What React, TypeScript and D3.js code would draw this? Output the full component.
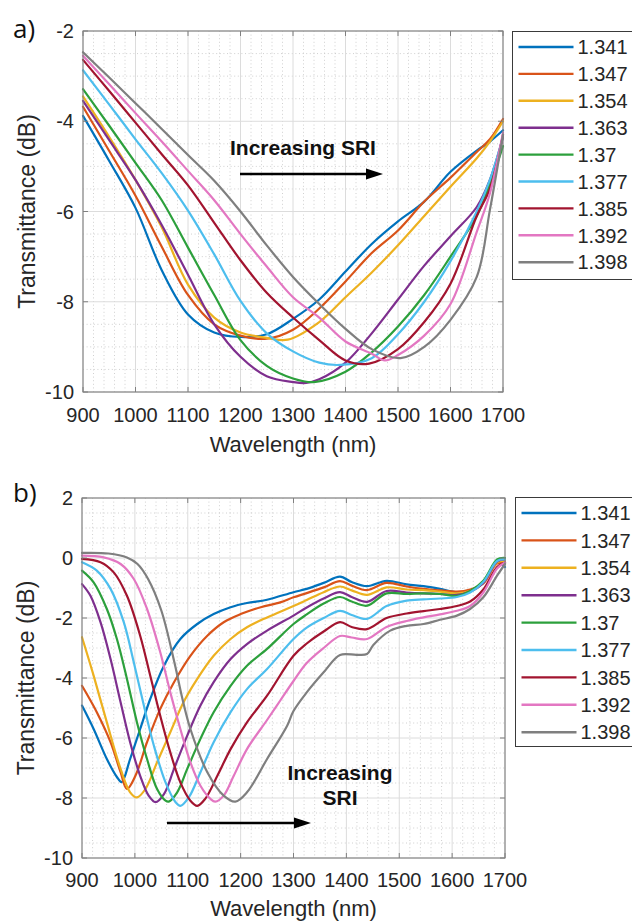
import React from "react";
import * as d3 from "d3";

type Pt = [number, number];

const WAVELENGTH_TICKS = [900, 1000, 1100, 1200, 1300, 1400, 1500, 1600, 1700];
const A_Y_TICKS = [-10, -8, -6, -4, -2];
const B_Y_TICKS = [-10, -8, -6, -4, -2, 0, 2];
const SRI_LABELS = ["1.341", "1.347", "1.354", "1.363", "1.37", "1.377", "1.385", "1.392", "1.398"];
const SERIES_COLORS = ["#0072BD", "#D95319", "#EDB120", "#7E2F8E", "#2CA03C", "#4DBEEE", "#A2142F", "#E377C2", "#7F7F7F"];

// Panel a) transmittance (dB) vs wavelength (nm)
const A_1341: Pt[] = [[900,-3.88],[950,-4.88],[1000,-5.92],[1050,-7.3],[1100,-8.28],[1150,-8.68],[1200,-8.78],[1250,-8.72],[1300,-8.38],[1350,-7.95],[1400,-7.33],[1450,-6.72],[1500,-6.22],[1550,-5.78],[1600,-5.12],[1650,-4.65],[1675,-4.45],[1700,-4.2]];
const A_1347: Pt[] = [[900,-3.68],[950,-4.66],[1000,-5.65],[1050,-6.78],[1100,-7.85],[1150,-8.5],[1200,-8.75],[1250,-8.82],[1300,-8.62],[1350,-8.15],[1400,-7.55],[1450,-6.92],[1500,-6.42],[1550,-5.78],[1600,-5.25],[1650,-4.68],[1675,-4.4],[1700,-3.95]];
const A_1354: Pt[] = [[900,-3.45],[950,-4.35],[1000,-5.3],[1050,-6.35],[1100,-7.62],[1150,-8.35],[1200,-8.68],[1250,-8.8],[1290,-8.84],[1350,-8.45],[1400,-7.9],[1450,-7.35],[1500,-6.75],[1550,-6.1],[1600,-5.45],[1650,-4.82],[1675,-4.45],[1700,-4.0]];
const A_1363: Pt[] = [[900,-3.55],[950,-4.42],[1000,-5.3],[1050,-6.3],[1100,-7.4],[1150,-8.5],[1200,-9.22],[1250,-9.65],[1300,-9.78],[1325,-9.8],[1350,-9.72],[1400,-9.35],[1450,-8.7],[1500,-7.95],[1550,-7.2],[1600,-6.55],[1650,-5.9],[1675,-5.3],[1700,-4.35]];
const A_1370: Pt[] = [[900,-3.29],[950,-4.1],[1000,-4.92],[1050,-5.75],[1100,-6.8],[1150,-7.85],[1200,-8.85],[1250,-9.42],[1300,-9.7],[1340,-9.78],[1400,-9.55],[1450,-9.12],[1500,-8.55],[1550,-7.85],[1600,-7.0],[1650,-6.1],[1675,-5.4],[1700,-4.55]];
const A_1377: Pt[] = [[900,-2.87],[950,-3.63],[1000,-4.4],[1050,-5.15],[1100,-5.98],[1150,-6.95],[1200,-7.98],[1250,-8.7],[1300,-9.1],[1350,-9.35],[1390,-9.4],[1450,-9.25],[1500,-8.72],[1550,-8.0],[1600,-7.1],[1650,-6.0],[1675,-5.3],[1700,-4.35]];
const A_1385: Pt[] = [[900,-2.64],[950,-3.33],[1000,-4.03],[1050,-4.73],[1100,-5.42],[1150,-6.25],[1200,-7.08],[1250,-7.8],[1300,-8.35],[1350,-8.85],[1400,-9.3],[1445,-9.37],[1500,-9.05],[1550,-8.45],[1600,-7.6],[1650,-6.1],[1675,-5.5],[1700,-4.3]];
const A_1392: Pt[] = [[900,-2.55],[950,-3.18],[1000,-3.82],[1050,-4.45],[1100,-5.1],[1150,-5.75],[1200,-6.5],[1250,-7.22],[1300,-7.9],[1350,-8.35],[1400,-8.88],[1450,-9.15],[1475,-9.3],[1500,-9.18],[1550,-8.75],[1600,-8.05],[1650,-6.45],[1675,-5.6],[1700,-4.25]];
const A_1398: Pt[] = [[900,-2.47],[950,-3.03],[1000,-3.6],[1050,-4.17],[1100,-4.75],[1150,-5.32],[1200,-6.0],[1250,-6.75],[1300,-7.45],[1350,-8.05],[1400,-8.6],[1450,-9.05],[1505,-9.25],[1550,-9.0],[1600,-8.4],[1650,-7.45],[1675,-5.97],[1700,-4.3]];

// Panel b) transmittance (dB) vs wavelength (nm)
const B_1341: Pt[] = [[900,-4.92],[922,-5.7],[947,-6.7],[966,-7.3],[975,-7.47],[991,-6.7],[1010,-5.7],[1029,-4.7],[1055,-3.59],[1086,-2.7],[1118,-2.2],[1149,-1.87],[1181,-1.64],[1212,-1.5],[1250,-1.39],[1300,-1.14],[1325,-1.03],[1357,-0.83],[1388,-0.62],[1410,-0.8],[1439,-0.94],[1476,-0.76],[1514,-0.88],[1546,-0.94],[1577,-1.03],[1609,-1.14],[1634,-1.09],[1659,-0.81],[1685,-0.14],[1700,-0.3]];
const B_1347: Pt[] = [[900,-4.26],[928,-5.14],[954,-6.14],[973,-7.14],[985,-7.7],[1001,-7.26],[1023,-6.14],[1048,-5.03],[1074,-4.14],[1105,-3.26],[1137,-2.59],[1168,-2.14],[1200,-1.87],[1238,-1.64],[1275,-1.48],[1300,-1.31],[1325,-1.17],[1357,-0.98],[1388,-0.77],[1410,-0.92],[1439,-1.07],[1476,-0.83],[1514,-0.95],[1546,-1.03],[1577,-1.08],[1609,-1.12],[1634,-1.05],[1659,-0.85],[1685,-0.18],[1700,-0.2]];
const B_1354: Pt[] = [[900,-2.64],[922,-3.92],[947,-5.48],[973,-7.03],[991,-7.81],[1004,-7.98],[1020,-7.7],[1042,-6.81],[1067,-5.81],[1092,-4.81],[1118,-4.03],[1149,-3.26],[1181,-2.7],[1212,-2.31],[1250,-1.98],[1300,-1.6],[1325,-1.4],[1357,-1.14],[1388,-0.95],[1410,-1.08],[1439,-1.23],[1476,-0.98],[1514,-1.05],[1546,-1.07],[1577,-1.12],[1609,-1.18],[1634,-1.1],[1659,-0.83],[1685,-0.15],[1700,-0.1]];
const B_1363: Pt[] = [[900,-0.87],[916,-1.26],[935,-2.14],[954,-3.37],[973,-4.81],[991,-6.14],[1010,-7.26],[1026,-7.92],[1039,-8.14],[1055,-7.87],[1074,-7.03],[1099,-5.92],[1124,-4.92],[1149,-4.14],[1181,-3.37],[1212,-2.87],[1250,-2.42],[1300,-1.92],[1325,-1.65],[1357,-1.35],[1388,-1.14],[1410,-1.3],[1439,-1.46],[1476,-1.1],[1514,-1.15],[1546,-1.18],[1577,-1.2],[1609,-1.23],[1634,-1.12],[1659,-0.83],[1685,-0.12],[1700,-0.05]];
const B_1370: Pt[] = [[900,-0.42],[922,-0.81],[947,-1.7],[966,-2.7],[985,-4.03],[1004,-5.48],[1023,-6.7],[1042,-7.7],[1058,-8.09],[1064,-8.12],[1080,-7.81],[1099,-7.03],[1124,-6.03],[1149,-5.14],[1181,-4.26],[1212,-3.59],[1250,-3.03],[1300,-2.2],[1325,-1.88],[1357,-1.52],[1388,-1.3],[1410,-1.45],[1439,-1.59],[1476,-1.18],[1514,-1.2],[1546,-1.18],[1577,-1.2],[1609,-1.26],[1634,-1.1],[1659,-0.76],[1685,-0.05],[1700,0.0]];
const B_1377: Pt[] = [[900,-0.14],[928,-0.42],[954,-1.03],[979,-2.14],[998,-3.48],[1017,-4.92],[1036,-6.26],[1058,-7.48],[1077,-8.14],[1086,-8.26],[1102,-7.98],[1124,-7.14],[1149,-6.14],[1181,-5.14],[1212,-4.37],[1250,-3.7],[1300,-2.7],[1325,-2.32],[1357,-2.0],[1388,-1.76],[1410,-1.9],[1439,-2.03],[1476,-1.6],[1514,-1.42],[1546,-1.38],[1577,-1.35],[1609,-1.3],[1634,-1.15],[1659,-0.8],[1685,-0.1],[1700,-0.05]];
const B_1385: Pt[] = [[900,-0.03],[935,-0.14],[960,-0.48],[985,-1.26],[1010,-2.59],[1029,-3.92],[1048,-5.26],[1067,-6.48],[1086,-7.48],[1105,-8.09],[1118,-8.26],[1133,-8.03],[1156,-7.26],[1181,-6.37],[1212,-5.48],[1250,-4.59],[1300,-3.26],[1325,-2.85],[1357,-2.45],[1388,-2.14],[1410,-2.3],[1439,-2.37],[1476,-2.0],[1514,-1.85],[1546,-1.77],[1577,-1.7],[1609,-1.6],[1634,-1.45],[1659,-1.05],[1685,-0.3],[1700,-0.15]];
const B_1392: Pt[] = [[900,0.08],[941,0.02],[973,-0.2],[998,-0.7],[1023,-1.7],[1048,-3.14],[1067,-4.48],[1086,-5.7],[1105,-6.81],[1124,-7.59],[1143,-8.03],[1152,-8.12],[1168,-7.92],[1187,-7.26],[1212,-6.37],[1250,-5.4],[1275,-4.75],[1300,-4.1],[1325,-3.5],[1357,-3.0],[1388,-2.6],[1410,-2.65],[1439,-2.7],[1476,-2.3],[1514,-2.1],[1546,-1.98],[1577,-1.88],[1609,-1.76],[1634,-1.6],[1659,-1.15],[1685,-0.35],[1700,-0.15]];
const B_1398: Pt[] = [[900,0.17],[950,0.15],[985,0.02],[1005,-0.2],[1025,-0.7],[1050,-1.75],[1075,-3.5],[1090,-4.7],[1105,-5.7],[1137,-7.14],[1168,-7.92],[1190,-8.12],[1212,-7.81],[1250,-6.7],[1288,-5.59],[1300,-5.1],[1325,-4.48],[1357,-3.81],[1388,-3.23],[1420,-3.23],[1439,-3.2],[1451,-2.9],[1483,-2.42],[1514,-2.26],[1546,-2.2],[1577,-2.06],[1609,-1.92],[1634,-1.7],[1659,-1.31],[1685,-0.59],[1700,-0.2]];

const A_SERIES = [A_1341, A_1347, A_1354, A_1363, A_1370, A_1377, A_1385, A_1392, A_1398];
const B_SERIES = [B_1341, B_1347, B_1354, B_1363, B_1370, B_1377, B_1385, B_1392, B_1398];

const FONT = "'Liberation Sans', Arial, Helvetica, sans-serif";
const TEXT = "#262626";

interface PanelProps {
  left: number; right: number; top: number; bottom: number;
  yMin: number; yMax: number; yTicks: number[];
  series: Pt[][];
  legend: { x: number; y: number; h: number; firstY: number; step: number };
  tickLabelY: number; axisLabelY: number; yLabelX: number;
  tag: string; tagY: number;
  children?: React.ReactNode;
}

function Panel(p: PanelProps) {
  const x = d3.scaleLinear().domain([900, 1700]).range([p.left, p.right]);
  const y = d3.scaleLinear().domain([p.yMin, p.yMax]).range([p.bottom, p.top]);
  const line = d3.line<Pt>().x(d => x(d[0])).y(d => y(d[1])).curve(d3.curveCatmullRom.alpha(0.5));
  const minorX = d3.range(900, 1701, 20).filter(v => v % 100 !== 0);
  const minorY = d3.range(p.yMin, p.yMax + 0.01, 0.5).filter(v => !p.yTicks.includes(v));
  const tk = 5;
  const cy = (p.top + p.bottom) / 2;
  const cx = (p.left + p.right) / 2;
  return (
    <g>
      {minorX.map(v => (
        <line key={"mx" + v} x1={x(v)} x2={x(v)} y1={p.top} y2={p.bottom} stroke="#c4c4c4" strokeWidth={0.8} strokeDasharray="1 2.6" />
      ))}
      {minorY.map(v => (
        <line key={"my" + v} x1={p.left} x2={p.right} y1={y(v)} y2={y(v)} stroke="#c4c4c4" strokeWidth={0.8} strokeDasharray="1 2.6" />
      ))}
      {WAVELENGTH_TICKS.map(v => (
        <line key={"gx" + v} x1={x(v)} x2={x(v)} y1={p.top} y2={p.bottom} stroke="#dcdcdc" strokeWidth={1} />
      ))}
      {p.yTicks.map(v => (
        <line key={"gy" + v} x1={p.left} x2={p.right} y1={y(v)} y2={y(v)} stroke="#dcdcdc" strokeWidth={1} />
      ))}
      {p.series.map((s, i) => (
        <path key={"s" + i} d={line(s) || ""} fill="none" stroke={SERIES_COLORS[i]} strokeWidth={2.2} strokeLinejoin="round" strokeLinecap="round" />
      ))}
      <rect x={p.left} y={p.top} width={p.right - p.left} height={p.bottom - p.top} fill="none" stroke="#808080" strokeWidth={1.1} />
      {WAVELENGTH_TICKS.map(v => (
        <g key={"tx" + v}>
          <line x1={x(v)} x2={x(v)} y1={p.bottom} y2={p.bottom - tk} stroke="#808080" />
          <line x1={x(v)} x2={x(v)} y1={p.top} y2={p.top + tk} stroke="#808080" />
          <text x={x(v)} y={p.tickLabelY} textAnchor="middle" fontSize={20} fontFamily={FONT} fill={TEXT}>{v}</text>
        </g>
      ))}
      {p.yTicks.map(v => (
        <g key={"ty" + v}>
          <line x1={p.left} x2={p.left + tk} y1={y(v)} y2={y(v)} stroke="#808080" />
          <line x1={p.right} x2={p.right - tk} y1={y(v)} y2={y(v)} stroke="#808080" />
          <text x={p.left - 9} y={y(v)} dy="0.36em" textAnchor="end" fontSize={20} fontFamily={FONT} fill={TEXT}>{v}</text>
        </g>
      ))}
      <text x={cx} y={p.axisLabelY} textAnchor="middle" fontSize={22} fontFamily={FONT} fill={TEXT}>Wavelength (nm)</text>
      <text transform={`translate(${p.yLabelX},${cy}) rotate(-90)`} textAnchor="middle" fontSize={23} fontFamily={FONT} fill={TEXT}>Transmittance (dB)</text>
      <text x={13} y={p.tagY} fontSize={26} fontFamily="'Open Sans', 'Noto Sans', sans-serif" fill="#111">{p.tag}</text>
      <rect x={p.legend.x} y={p.legend.y} width={140} height={p.legend.h} fill="#fff" stroke="#3a3a3a" strokeWidth={1} />
      {SRI_LABELS.map((lab, i) => {
        const ly = p.legend.firstY + i * p.legend.step;
        return (
          <g key={"lg" + i}>
            <line x1={p.legend.x + 6} x2={p.legend.x + 61} y1={ly} y2={ly} stroke={SERIES_COLORS[i]} strokeWidth={2.4} />
            <text x={p.legend.x + 65} y={ly} dy="0.36em" fontSize={20} fontFamily={FONT} fill={TEXT}>{lab}</text>
          </g>
        );
      })}
      {p.children}
    </g>
  );
}

function Arrow({ x1, x2, yPos }: { x1: number; x2: number; yPos: number }) {
  const head = 17;
  return (
    <g>
      <line x1={x1} x2={x2 - head + 2} y1={yPos} y2={yPos} stroke="#000" strokeWidth={2.6} />
      <polygon points={`${x2 - head},${yPos - 5.5} ${x2},${yPos} ${x2 - head},${yPos + 5.5}`} fill="#000" />
    </g>
  );
}

export default function App() {
  return (
    <svg width={632} height={921} viewBox="0 0 632 921" style={{ position: "absolute", left: 0, top: 0, background: "#fff" }}>
      <rect x={0} y={0} width={632} height={921} fill="#fff" />
      <Panel left={83} right={503} top={31} bottom={392} yMin={-10} yMax={-2} yTicks={A_Y_TICKS}
        series={A_SERIES} legend={{ x: 512.5, y: 31.5, h: 248, firstY: 47, step: 26.9 }}
        tickLabelY={422} axisLabelY={452} yLabelX={35} tag="a)" tagY={38}>
        <text x={230} y={155} fontSize={21} fontWeight="bold" fontFamily={FONT} fill="#111">Increasing SRI</text>
        <Arrow x1={240} x2={383} yPos={174} />
      </Panel>
      <Panel left={82} right={505} top={498} bottom={858} yMin={-10} yMax={2} yTicks={B_Y_TICKS}
        series={B_SERIES} legend={{ x: 515.5, y: 497.5, h: 249, firstY: 513, step: 27.4 }}
        tickLabelY={887} axisLabelY={916} yLabelX={34} tag="b)" tagY={502}>
        <text x={340} y={780} textAnchor="middle" fontSize={21} fontWeight="bold" fontFamily={FONT} fill="#111">Increasing</text>
        <text x={340} y={805} textAnchor="middle" fontSize={21} fontWeight="bold" fontFamily={FONT} fill="#111">SRI</text>
        <Arrow x1={167} x2={311} yPos={823} />
      </Panel>
    </svg>
  );
}
